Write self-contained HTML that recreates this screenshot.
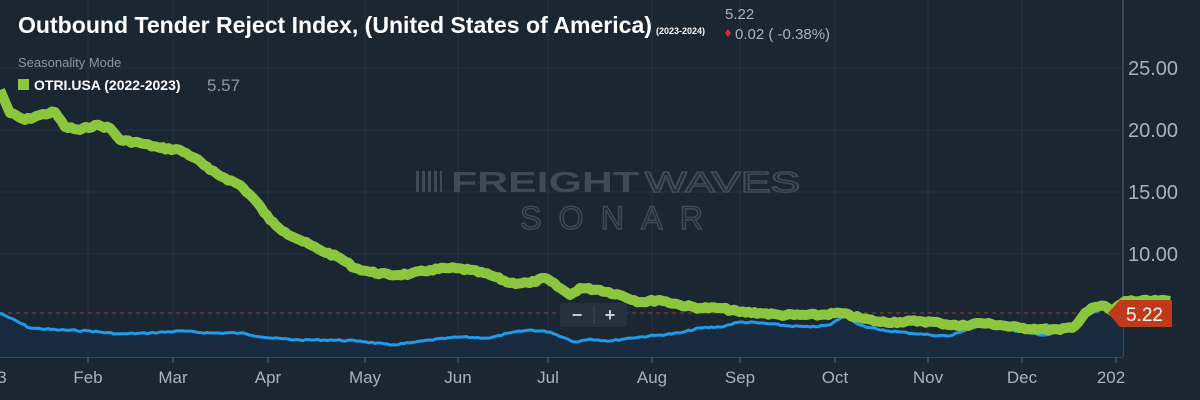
<!DOCTYPE html>
<html><head><meta charset="utf-8"><style>
html,body{margin:0;padding:0;background:#1b2633;width:1200px;height:400px;overflow:hidden}
svg{display:block;font-family:"Liberation Sans",sans-serif}
</style></head><body>
<svg width="1200" height="400" viewBox="0 0 1200 400">
<rect width="1200" height="400" fill="#1b2633"/>
<g stroke="#243242" stroke-width="1">
<line x1="88" y1="0" x2="88" y2="357"/><line x1="173" y1="0" x2="173" y2="357"/><line x1="268" y1="0" x2="268" y2="357"/><line x1="365" y1="0" x2="365" y2="357"/><line x1="458" y1="0" x2="458" y2="357"/><line x1="548" y1="0" x2="548" y2="357"/><line x1="652" y1="0" x2="652" y2="357"/><line x1="740" y1="0" x2="740" y2="357"/><line x1="835" y1="0" x2="835" y2="357"/><line x1="928" y1="0" x2="928" y2="357"/><line x1="1022" y1="0" x2="1022" y2="357"/>
<line x1="0" y1="68" x2="1123" y2="68"/><line x1="0" y1="130" x2="1123" y2="130"/><line x1="0" y1="192" x2="1123" y2="192"/><line x1="0" y1="254" x2="1123" y2="254"/>
</g>
<line x1="1123" y1="0" x2="1123" y2="357" stroke="#5a6570"/>
<line x1="0" y1="357" x2="1123" y2="357" stroke="#5a6570"/>
<g stroke="#5a6570"><line x1="88" y1="357" x2="88" y2="363"/><line x1="173" y1="357" x2="173" y2="363"/><line x1="268" y1="357" x2="268" y2="363"/><line x1="365" y1="357" x2="365" y2="363"/><line x1="458" y1="357" x2="458" y2="363"/><line x1="548" y1="357" x2="548" y2="363"/><line x1="652" y1="357" x2="652" y2="363"/><line x1="740" y1="357" x2="740" y2="363"/><line x1="835" y1="357" x2="835" y2="363"/><line x1="928" y1="357" x2="928" y2="363"/><line x1="1022" y1="357" x2="1022" y2="363"/><line x1="1116" y1="357" x2="1116" y2="363"/></g>
<!-- watermark -->
<g fill="#3f4a56">
<text x="451" y="192" font-size="29" font-weight="bold" textLength="188" lengthAdjust="spacingAndGlyphs">FREIGHT</text>
<text x="645" y="192" font-size="29" fill="none" stroke="#3f4a56" stroke-width="1.5" textLength="155" lengthAdjust="spacingAndGlyphs">WAVES</text>
<text x="520" y="229" font-size="32" fill="none" stroke="#3f4a56" stroke-width="1.5" textLength="183" lengthAdjust="spacing">SONAR</text>
<rect x="416" y="171" width="3" height="21"/><rect x="422" y="171" width="3" height="21"/><rect x="428" y="171" width="3" height="21"/><rect x="434" y="171" width="3" height="21"/><rect x="440" y="171" width="2" height="21"/>
</g>
<path fill="#1a2a3e" d="M0,313 L10,318 L30,328 L60,330 L90,331 L120,334 L150,333 L180,331 L210,333 L240,333 L270,338 L300,340 L330,340 L360,341 L390,345 L410,343 L430,340 L460,337 L490,338 L510,333 L530,330 L550,332 L565,338 L575,342 L590,339 L610,341 L630,338 L660,335 L680,333 L700,328 L720,327 L740,322 L760,323 L790,326 L810,327 L830,325 L845,315 L860,325 L880,330 L900,332 L930,335 L950,336 L970,328 L990,324 L1010,330 L1030,333 L1045,335 L1060,332 L1075,325 L1090,313 L1105,309 L1123,313 L1123,357 L0,357Z"/>
<line x1="0" y1="313" x2="1123" y2="313" stroke="#a03a3a" stroke-width="1" stroke-dasharray="4,4"/>
<polyline id="blue" fill="none" stroke="#1e9be9" stroke-width="3" stroke-linejoin="round" points="0,313 10,318 30,328 60,330 90,331 120,334 150,333 180,331 210,333 240,333 270,338 300,340 330,340 360,341 390,345 410,343 430,340 460,337 490,338 510,333 530,330 550,332 565,338 575,342 590,339 610,341 630,338 660,335 680,333 700,328 720,327 740,322 760,323 790,326 810,327 830,325 845,315 860,325 880,330 900,332 930,335 950,336 970,328 990,324 1010,330 1030,333 1045,335 1060,332 1075,325 1090,313 1105,309"/>
<polyline id="green" fill="none" stroke="#8cc63f" stroke-width="10" stroke-linejoin="round" points="0,90 10,113 25,120 40,115 55,112 65,127 80,130 95,125 110,128 120,140 140,143 160,148 180,150 195,158 210,170 225,178 240,185 255,200 270,220 285,232 300,240 320,250 340,258 355,268 370,272 390,275 410,274 430,270 450,268 470,270 490,275 510,283 530,283 545,278 560,288 570,295 580,288 600,290 620,295 640,302 660,300 680,305 700,308 720,308 740,312 760,313 780,315 800,315 820,315 840,313 860,318 880,322 900,322 920,321 940,323 960,326 980,323 1000,325 1020,328 1040,329 1060,330 1075,326 1085,313 1095,307 1105,306 1112,311 1125,301 1170,301"/>
<path d="M1108,313 L1120,300 L1172,300 L1172,327 L1120,327Z" fill="#c0391b"/>
<text x="1126" y="321" font-size="19" fill="#fff">5.22</text>
<rect x="560" y="303" width="67" height="24" rx="3" fill="#25313f"/>
<line x1="594" y1="306" x2="594" y2="324" stroke="#3a4654"/>
<text x="577" y="321" font-size="18" font-weight="bold" fill="#c8cdd2" text-anchor="middle">−</text>
<text x="610" y="321" font-size="18" font-weight="bold" fill="#c8cdd2" text-anchor="middle">+</text>
<g font-size="20" fill="#a9b1ba">
<text x="1128" y="75">25.00</text><text x="1128" y="137">20.00</text><text x="1128" y="199">15.00</text><text x="1128" y="261">10.00</text>
</g>
<g font-size="17" fill="#a9b1ba" text-anchor="middle">
<text x="2" y="383">3</text><text x="88" y="383">Feb</text><text x="173" y="383">Mar</text><text x="268" y="383">Apr</text><text x="365" y="383">May</text><text x="458" y="383">Jun</text><text x="548" y="383">Jul</text><text x="652" y="383">Aug</text><text x="740" y="383">Sep</text><text x="835" y="383">Oct</text><text x="928" y="383">Nov</text><text x="1022" y="383">Dec</text><text x="1111" y="383">202</text>
</g>
<text x="18" y="33" font-size="23" font-weight="bold" fill="#fff" textLength="634" lengthAdjust="spacingAndGlyphs">Outbound Tender Reject Index, (United States of America)</text>
<text x="656" y="34" font-size="9" font-weight="bold" fill="#fff">(2023-2024)</text>
<text x="725" y="19" font-size="15" fill="#a9b1ba">5.22</text>
<path d="M728,29 L731,33 L728,37 L725,33Z" fill="#e0283a"/>
<text x="735" y="39" font-size="15" fill="#a9b1ba">0.02 ( -0.38%)</text>
<text x="18" y="67" font-size="13" fill="#8d96a0">Seasonality Mode</text>
<rect x="18" y="79" width="11" height="11" fill="#8cc63f"/>
<text x="34" y="90" font-size="14" font-weight="bold" fill="#fff">OTRI.USA (2022-2023)</text>
<text x="207" y="91" font-size="17" fill="#8d96a0">5.57</text>
</svg>
<script>
// add small jitter for a rougher, more realistic line
function jag(id,amp,step){var el=document.getElementById(id);var p=el.getAttribute('points').trim().split(/\s+/).map(function(s){return s.split(',').map(Number)});var out=[];var seed=7;function r(){seed=(seed*9301+49297)%233280;return seed/233280-0.5;}
for(var i=0;i<p.length-1;i++){var a=p[i],b=p[i+1];var n=Math.max(1,Math.round((b[0]-a[0])/step));for(var k=0;k<n;k++){var t=k/n;var x=a[0]+(b[0]-a[0])*t,y=a[1]+(b[1]-a[1])*t;out.push(x.toFixed(1)+','+(y+(k?r()*amp:0)).toFixed(1));}}
out.push(p[p.length-1].join(','));el.setAttribute('points',out.join(' '));}
jag('green',2.5,3);jag('blue',1.5,3);
</script>
</body></html>
